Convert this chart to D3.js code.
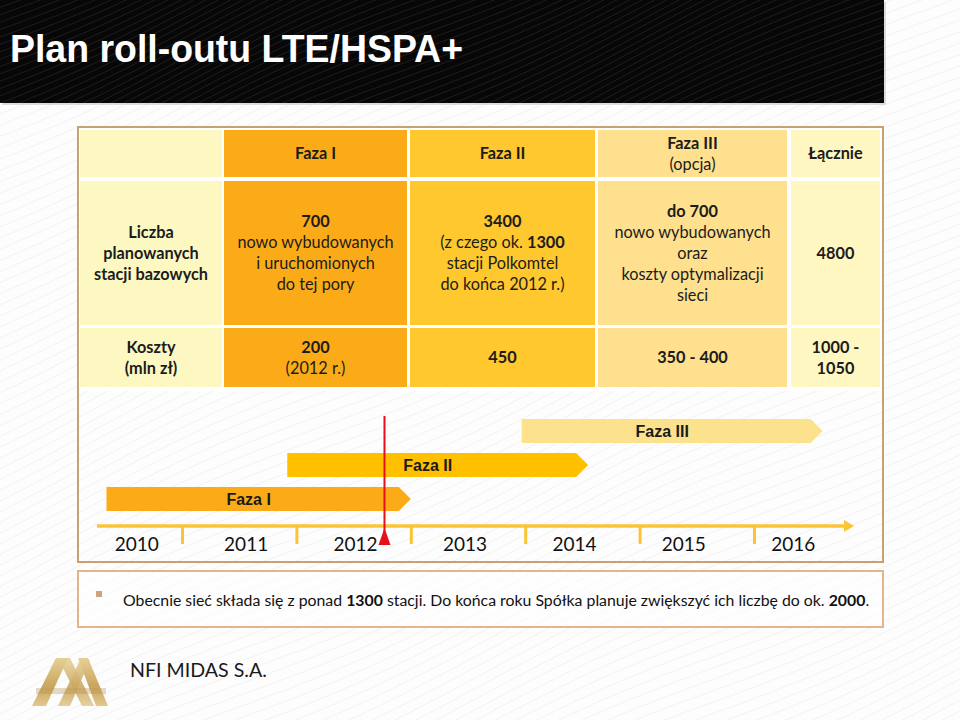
<!DOCTYPE html>
<html><head><meta charset="utf-8">
<script src="https://cdn.jsdelivr.net/npm/d3@7"></script>
<style>body{margin:0;background:#fff}svg{display:block}</style>
</head><body>
<script>
// ---------- DATA ----------
const title = "Plan roll-outu LTE/HSPA+";
const columns = ["", "Faza I", "Faza II", "Faza III", "Łącznie"];
const headerRow = ["", "**Faza I**", "**Faza II**", "**Faza III**\n(opcja)", "**Łącznie**"];
const stationsRow = [
  "**Liczba**\n**planowanych**\n**stacji bazowych**",
  "**700**\nnowo wybudowanych\ni uruchomionych\ndo tej pory",
  "**3400**\n(z czego ok. **1300**\nstacji Polkomtel\ndo końca 2012 r.)",
  "**do 700**\nnowo wybudowanych\noraz\nkoszty optymalizacji\nsieci",
  "**4800**"
];
const costsRow = ["**Koszty**\n**(mln zł)**", "**200**\n(2012 r.)", "**450**", "**350 - 400**", "**1000 -**\n**1050**"];
const years = [2010, 2011, 2012, 2013, 2014, 2015, 2016];
const yearTicks = [2011, 2012, 2013, 2014, 2015, 2016];
const phaseNames = ["Faza I", "Faza II", "Faza III"];
const phaseStart = [2010.34, 2011.92, 2013.97];
const phaseEnd = [2013.0, 2014.55, 2016.6];
const markerYear = 2012.77;
const footerNote = "Obecnie sieć składa się z ponad **1300** stacji. Do końca roku Spółka planuje zwiększyć ich liczbę do ok. **2000**.";
const company = "NFI MIDAS S.A.";

// ---------- STYLE / LAYOUT ----------
const W = 960, H = 720;
const FONT = "Lato, 'Open Sans', sans-serif";
const ARIAL = "'Liberation Sans', Arial, sans-serif";
const colX = [80, 224, 410, 598, 791];
const colW = [142, 183, 185, 189, 89];
const rowY = [130, 181, 328];
const rowH = [47, 144, 59];
const colFill = ["#fdf8c2", "#fbab18", "#ffc82e", "#fee08e", "#fef7c2"];
const phaseFill = ["#fbab18", "#ffc000", "#fde28e"];
const gold = "#fcc434";

const svg = d3.select("body").append("svg").attr("width", W).attr("height", H);
const defs = svg.append("defs");

// subtle background texture
function waves(g, x0, y0, w, h, color, op, spacing) {
  const clipId = "clip" + Math.round(x0) + "_" + Math.round(y0) + "_" + Math.round(w);
  defs.append("clipPath").attr("id", clipId).append("rect").attr("x", x0).attr("y", y0).attr("width", w).attr("height", h);
  const gg = g.append("g").attr("clip-path", `url(#${clipId})`);
  const line = d3.line().curve(d3.curveBasis);
  for (let k = -10; k < (h + w * 0.45) / spacing + 10; k++) {
    const pts = [];
    for (let t = 0; t <= w + 20; t += 20) {
      pts.push([x0 + t, y0 + k * spacing - t * 0.45 + 8 * Math.sin(t / 90 + k * 0.05)]);
    }
    gg.append("path").attr("d", line(pts)).attr("fill", "none").attr("stroke", color).attr("stroke-width", 1).attr("opacity", op);
  }
}
svg.append("rect").attr("width", W).attr("height", H).attr("fill", "#fdfdfd");
waves(svg, 0, 0, W, H, "#e4e4e4", 0.45, 11);

// title bar
svg.append("rect").attr("x", 2).attr("y", 2).attr("width", 884).attr("height", 103).attr("fill", "#c8c8c8").attr("opacity", 0.6);
svg.append("rect").attr("x", 0).attr("y", 0).attr("width", 884).attr("height", 103).attr("fill", "#070707");
waves(svg, 0, 0, 884, 103, "#3a3a3a", 0.45, 7);
svg.append("text").attr("x", 10).attr("y", 62).attr("fill", "#fff")
  .attr("font-family", "'Liberation Sans Narrow', 'Arial Narrow', " + ARIAL).attr("font-weight", "bold")
  .attr("font-size", 39).attr("textLength", 453).attr("lengthAdjust", "spacingAndGlyphs").text(title);

// rich text helper
function richLine(textSel, str) {
  str.split("**").forEach((seg, i) => {
    if (!seg) return;
    textSel.append("tspan").attr("font-weight", i % 2 ? "bold" : "normal").text(seg);
  });
}
function fitWidth(sel, target) {
  const w = sel.node().getComputedTextLength();
  const fs = parseFloat(sel.attr("font-size"));
  if (w > 0) sel.attr("font-size", fs * target / w);
}

// table
svg.append("rect").attr("x", 78).attr("y", 127).attr("width", 805).attr("height", 264).attr("fill", "#fff");
const rows = [headerRow, stationsRow, costsRow];
const tbl = svg.append("g");
const FS = 16.3, LH = 21;
rows.forEach((row, r) => {
  row.forEach((cell, c) => {
    tbl.append("rect").attr("x", colX[c]).attr("y", rowY[r]).attr("width", colW[c]).attr("height", rowH[r]).attr("fill", colFill[c]);
    if (!cell) return;
    const lines = cell.split("\n");
    const cy = rowY[r] + rowH[r] / 2;
    const cx = colX[c] + colW[c] / 2;
    lines.forEach((ln, i) => {
      const y = cy + (i - (lines.length - 1) / 2) * LH + FS * 0.36;
      const t = tbl.append("text").attr("x", cx).attr("y", y).attr("text-anchor", "middle")
        .attr("font-family", FONT).attr("font-size", FS).attr("fill", "#1c1c1c");
      richLine(t, ln);
    });
  });
});
svg.append("rect").attr("x", 78).attr("y", 127).attr("width", 805).attr("height", 435)
  .attr("fill", "none").attr("stroke", "#c9a070").attr("stroke-width", 2);

// timeline
const xTime = d3.scaleLinear().domain([2011, 2016]).range([182, 754]);
const xYear = d3.scaleBand().domain(years).range([82, 848]);
const yPhase = d3.scaleBand().domain(["Faza III", "Faza II", "Faza I"]).range([419, 511]).paddingInner(0.294);
const axisY = 526;
const tl = svg.append("g");
const TIP = 12;
phaseNames.forEach((name, i) => {
  const x0 = xTime(phaseStart[i]), x1 = xTime(phaseEnd[i]);
  const y0 = yPhase(name), h = yPhase.bandwidth();
  tl.append("path").attr("d", `M${x0},${y0}H${x1 - TIP}L${x1},${y0 + h / 2}L${x1 - TIP},${y0 + h}H${x0}Z`).attr("fill", phaseFill[i]);
  tl.append("text").attr("x", (x0 + x1 - TIP) / 2 - 4).attr("y", y0 + h / 2 + 6).attr("text-anchor", "middle")
    .attr("font-family", ARIAL).attr("font-weight", "bold").attr("font-size", 16).attr("fill", "#1a1a1a").text(name);
});
// axis line with arrow
tl.append("line").attr("x1", 97).attr("x2", 848).attr("y1", axisY).attr("y2", axisY).attr("stroke", gold).attr("stroke-width", 3.5);
tl.append("path").attr("d", `M844,${axisY - 6}L854,${axisY}L844,${axisY + 6}Z`).attr("fill", gold);
const ax = tl.append("g").attr("transform", `translate(0,${axisY})`)
  .call(d3.axisBottom(xTime).tickValues(yearTicks).tickFormat("").tickSize(18));
ax.select(".domain").remove();
ax.selectAll(".tick line").attr("stroke", gold).attr("stroke-width", 3);
tl.selectAll(".yr").data(years).enter().append("text").attr("class", "yr")
  .attr("x", d => xYear(d) + xYear.bandwidth() / 2).attr("y", 551).attr("text-anchor", "middle")
  .attr("font-family", FONT).attr("font-size", 19).attr("fill", "#111").text(d => d);
// current marker
const mx = xTime(markerYear);
tl.append("line").attr("x1", mx).attr("x2", mx).attr("y1", 416).attr("y2", 540).attr("stroke", "#e5101a").attr("stroke-width", 2);
tl.append("path").attr("d", `M${mx - 6},545L${mx},528L${mx + 6},545Z`).attr("fill", "#e5101a");

// footer note
svg.append("rect").attr("x", 78).attr("y", 571).attr("width", 805).attr("height", 56)
  .attr("fill", "#fff").attr("fill-opacity", 0.5).attr("stroke", "#e2b68c").attr("stroke-width", 2);
svg.append("rect").attr("x", 96).attr("y", 591).attr("width", 6).attr("height", 6).attr("fill", "#c9a47e");
const ft = svg.append("text").attr("x", 123).attr("y", 606).attr("font-family", FONT).attr("font-size", 17).attr("fill", "#111");
richLine(ft, footerNote);
fitWidth(ft, 747);

// logo
const lg = defs.append("linearGradient").attr("id", "gold").attr("x1", 0).attr("y1", 0).attr("x2", 0).attr("y2", 1);
lg.append("stop").attr("offset", "0%").attr("stop-color", "#e6cf95");
lg.append("stop").attr("offset", "60%").attr("stop-color", "#c9a55e");
lg.append("stop").attr("offset", "100%").attr("stop-color", "#e2c98e");
const logo = svg.append("g").attr("fill", "url(#gold)");
logo.append("path").attr("d", "M32,706L56,658L68,658L46,706Z");
logo.append("path").attr("d", "M58,658L70,658L94,706L82,706Z").attr("opacity", 0.85);
logo.append("path").attr("d", "M58,706L80,660L90,660L70,706Z").attr("opacity", 0.9);
logo.append("path").attr("d", "M78,658L88,658L108,706L96,706Z");
logo.append("rect").attr("x", 36).attr("y", 688).attr("width", 70).attr("height", 6).attr("fill", "#b8924c").attr("opacity", 0.35);
const ct = svg.append("text").attr("x", 130).attr("y", 677).attr("font-family", FONT).attr("font-size", 22).attr("fill", "#1a1a1a").text(company);
fitWidth(ct, 137);
</script>
</body></html>
